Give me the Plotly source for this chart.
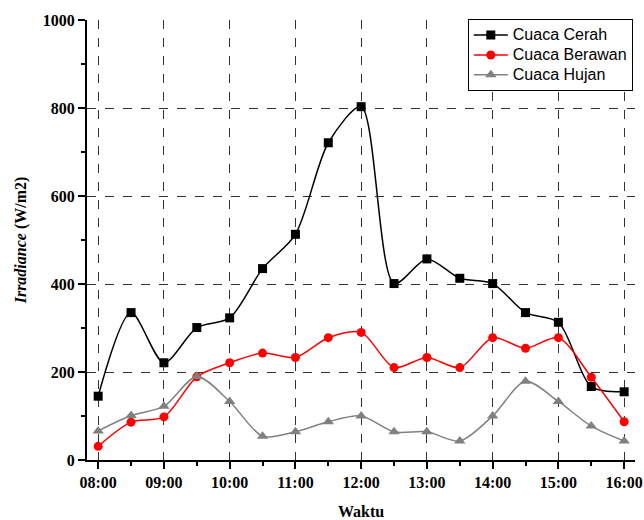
import plotly.graph_objects as go

# Measurement times (hours) and their tick labels
hours = [8.0, 8.5, 9.0, 9.5, 10.0, 10.5, 11.0, 11.5, 12.0,
         12.5, 13.0, 13.5, 14.0, 14.5, 15.0, 15.5, 16.0]
tick_hours = [8, 9, 10, 11, 12, 13, 14, 15, 16]
tick_labels = ["08:00", "09:00", "10:00", "11:00", "12:00",
               "13:00", "14:00", "15:00", "16:00"]

# Irradiance (W/m2) per weather condition
cerah = [145, 335, 221, 301, 323, 435, 513, 721, 803,
         401, 457, 413, 401, 335, 313, 167, 155]
berawan = [31, 86, 98, 189, 221, 243, 233, 278, 290,
           210, 233, 210, 278, 254, 278, 188, 87]
hujan = [66, 101, 122, 190, 133, 54, 64, 87, 100,
         64, 64, 43, 100, 179, 133, 77, 43]

series = [
    ("Cuaca Cerah", cerah, "#000000", "square", 9),
    ("Cuaca Berawan", berawan, "#ff0000", "circle", 9),
    ("Cuaca Hujan", hujan, "#808080", "triangle-up", 10),
]

fig = go.Figure()
for name, vals, color, symbol, size in series:
    fig.add_trace(go.Scatter(
        x=hours, y=vals, mode="lines+markers",
        # larger label text inside a compact legend row
        name=f'<span style="font-size:16px">{name}</span>',
        line=dict(color=color, width=1.5, shape="spline", smoothing=0.8),
        marker=dict(symbol=symbol, size=size, color=color),
    ))

serif = "Liberation Serif, Times New Roman, serif"
axis_common = dict(
    showline=True, linecolor="black", linewidth=2,
    ticks="outside", ticklen=7, tickwidth=1.5, tickcolor="black",
    showgrid=True, gridcolor="#333333", gridwidth=1, griddash="dash",
    zeroline=False, automargin=False,
    tickfont=dict(family=serif, size=16, color="black", weight="bold"),
)

fig.update_xaxes(
    range=[7.83, 16.165], tickvals=tick_hours, ticktext=tick_labels,
    minor=dict(dtick=0.5, tick0=8, ticks="outside", ticklen=4,
               tickwidth=1.5, tickcolor="black", showgrid=False),
    title=dict(text="<b>Waktu</b>", standoff=16,
               font=dict(family=serif, size=16, color="black")),
    **axis_common,
)
fig.update_yaxes(
    range=[0, 1000], dtick=200, tick0=0,
    minor=dict(dtick=100, ticks="outside", ticklen=4,
               tickwidth=1.5, tickcolor="black", showgrid=False),
    title=dict(text="<b><i>Irradiance</i> (W/m2)</b>", standoff=12,
               font=dict(family=serif, size=16, color="black")),
    **axis_common,
)

fig.update_layout(
    width=644, height=520,
    margin=dict(l=87, r=9, t=20, b=60),
    paper_bgcolor="white", plot_bgcolor="white",
    showlegend=True,
    legend=dict(
        x=0.996, y=1.002, xanchor="right", yanchor="top",
        bordercolor="black", borderwidth=1, bgcolor="white",
        font=dict(family="Liberation Sans, Arial, sans-serif", size=13, color="black"),
        tracegroupgap=0, itemwidth=34,
    ),
)

fig.write_html("out.html")
